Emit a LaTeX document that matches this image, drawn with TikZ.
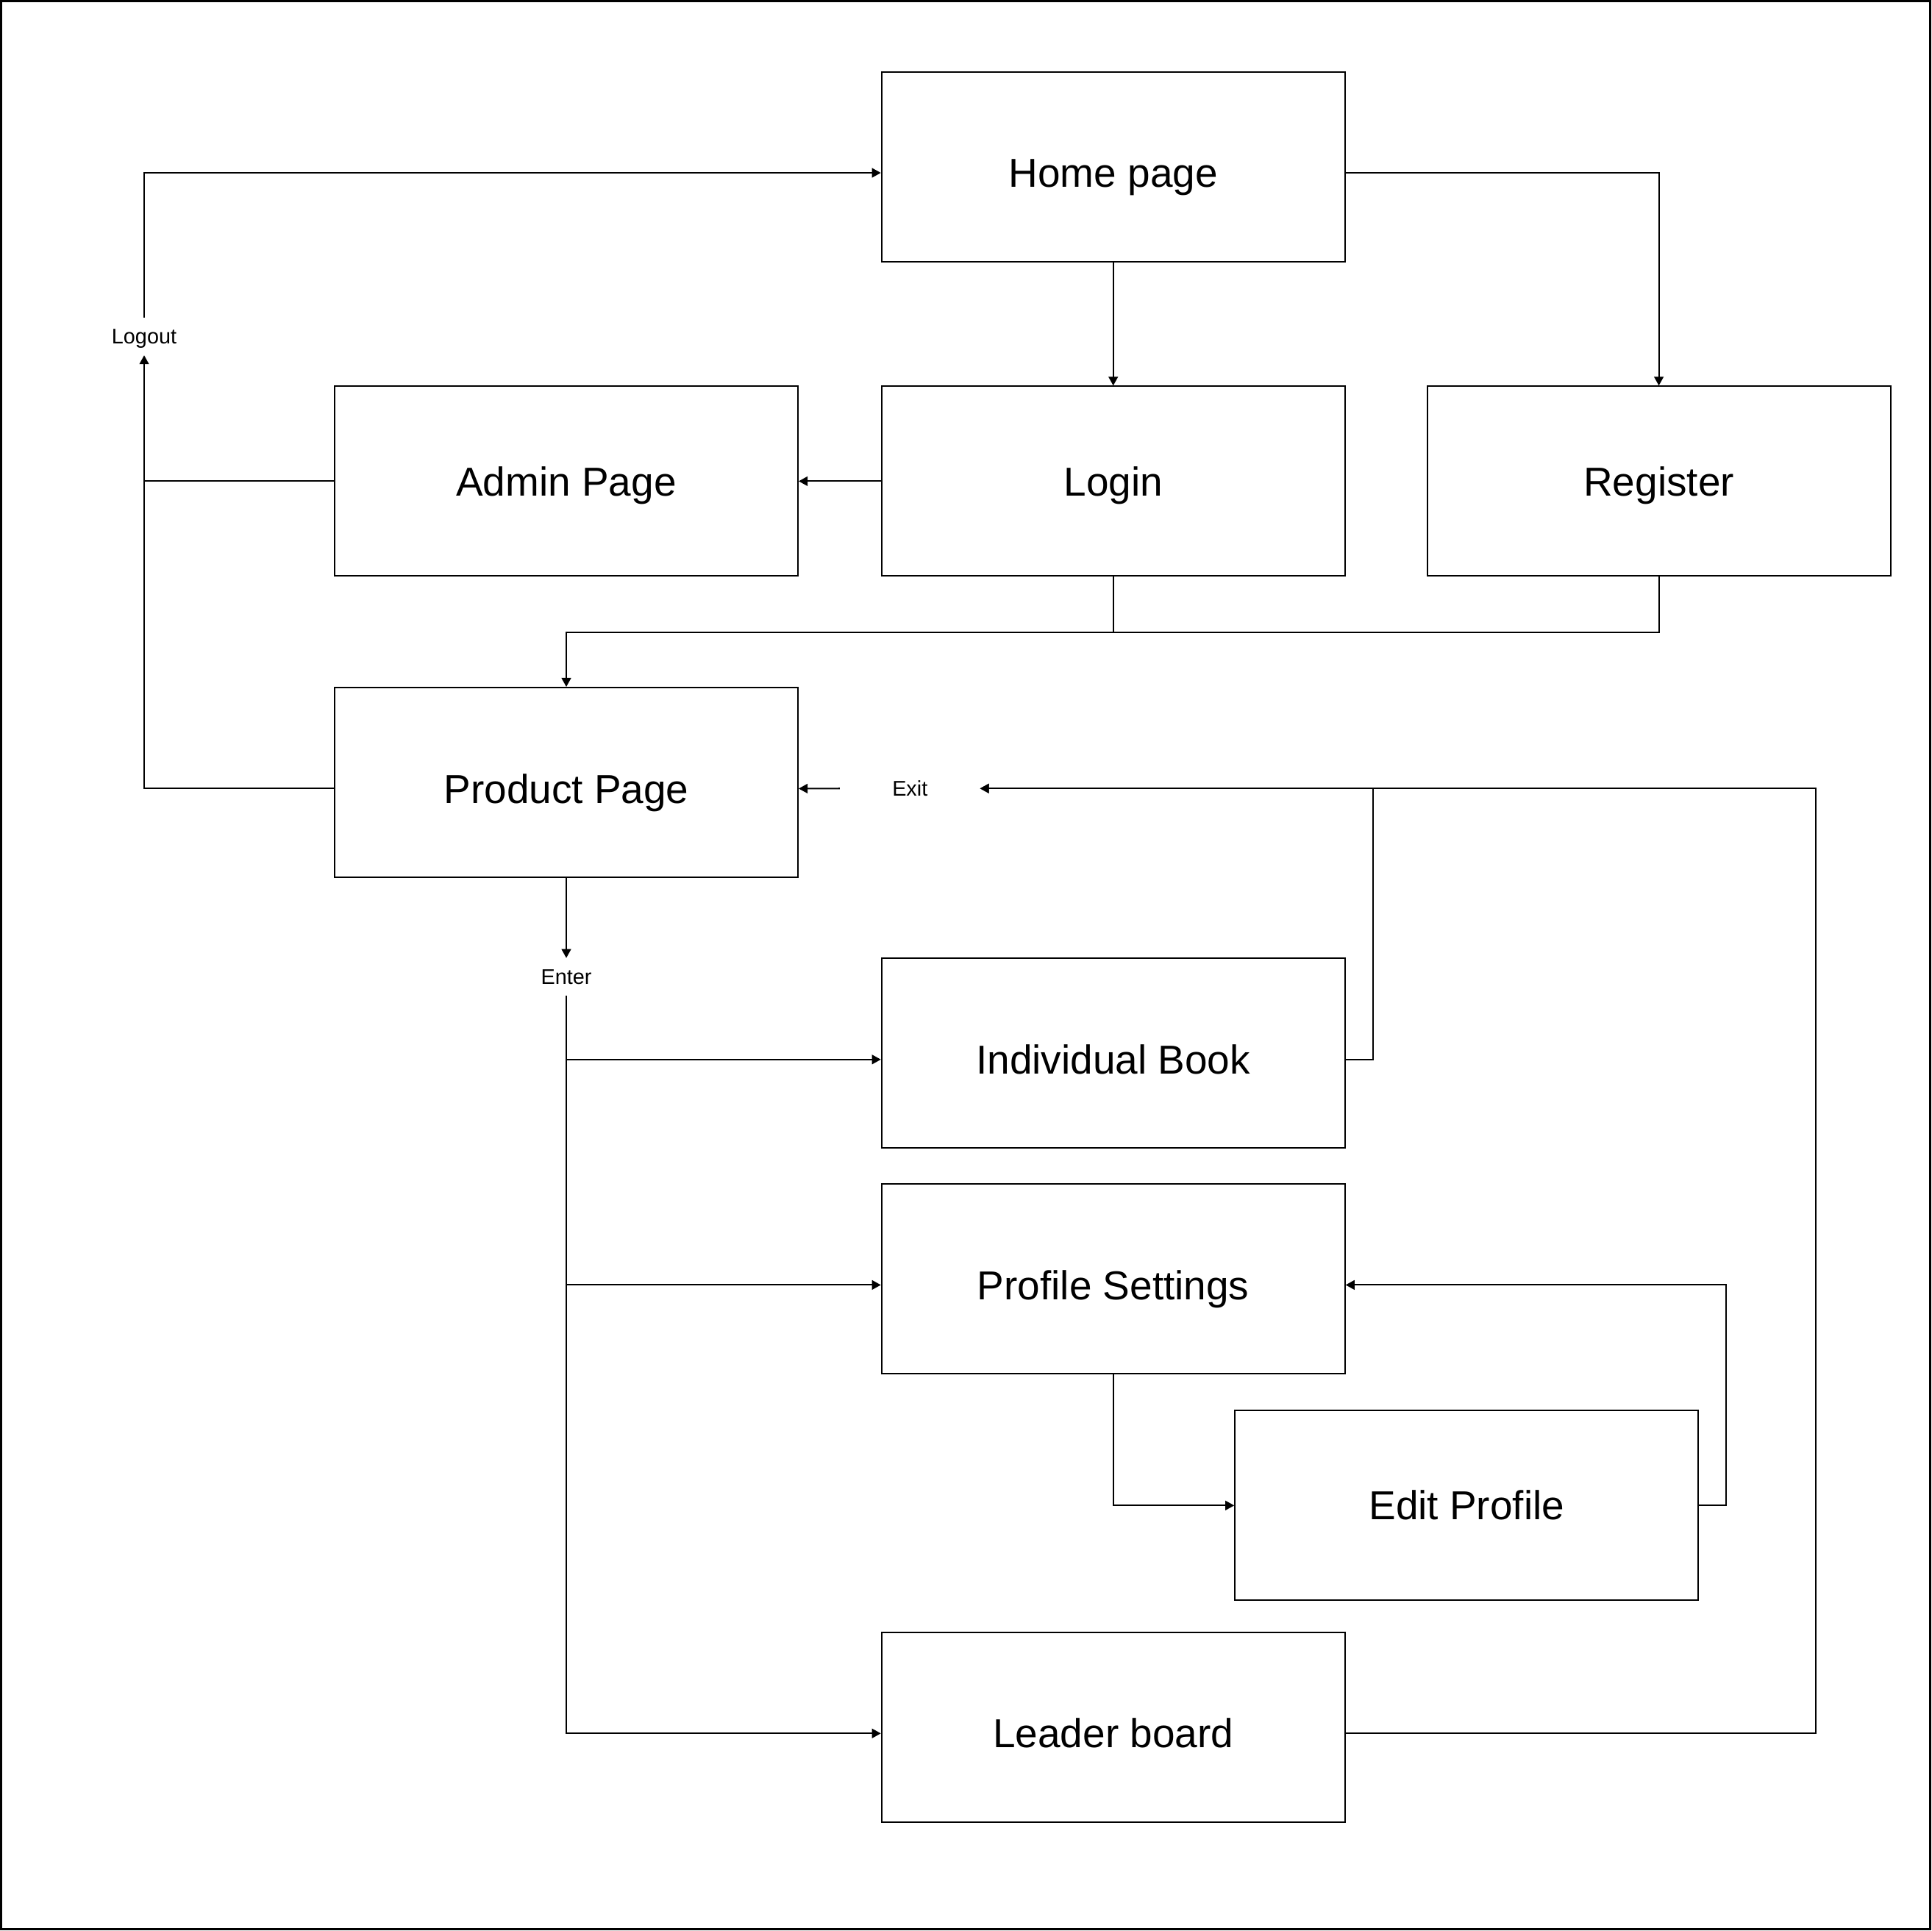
\documentclass[tikz,border=0pt]{standalone}
\usepackage{fontspec}
\setmainfont{Liberation Sans}
\usetikzlibrary{arrows.meta,calc}
\tikzset{
  pagebox/.style={draw=black, line width=0.6pt, rectangle, minimum width=188pt, minimum height=77pt,
    inner sep=0pt, font=\fontsize{16.4}{19}\selectfont, text height=11.7pt, text depth=0pt},
  pageboxlow/.style={pagebox, text height=16.7pt},
  lbl/.style={rectangle, inner sep=0pt, minimum width=56.5pt, minimum height=15pt,
    font=\fontsize{8.6}{10}\selectfont, text height=6.2pt, text depth=0pt},
  conn/.style={draw=black, line width=0.6pt},
  arr/.style={conn, -{Triangle[length=3.6pt,width=3.8pt]}},
}
\begin{document}
\begin{tikzpicture}[x=0.5pt,y=-0.5pt]
\useasboundingbox (0,0) rectangle (1568,1567);
\draw[line width=0.9pt] (0.9,0.9) rectangle (1566.6,1565.7);

\node[pageboxlow] (home)     at (903.5,135.3)  {Home page};
\node[pagebox]    (login)    at (903.5,390.6)  {Login};
\node[pagebox]    (admin)    at (459.6,390.6)  {Admin Page};
\node[pagebox]    (register) at (1346.3,390.6) {Register};
\node[pageboxlow] (product)  at (459.6,635.1)  {Product Page};
\node[pageboxlow] (ib)       at (903.5,855)    {Individual Book};
\node[pageboxlow] (profile)  at (903.5,1038)   {Profile Settings};
\node[pagebox]    (edit)     at (1190.3,1222)  {Edit Profile};
\node[pageboxlow] (leader)   at (903.5,1402)   {Leader board};

\node[lbl] (logout) at (117,273)   {Logout};
\node[lbl] (enter)  at (459.6,793) {Enter};
\node[lbl] (exit)   at (738.5,640) {Exit};

\coordinate (bus) at ($(login.south)+(0,-22.5pt)$);

% home
\draw[arr] ([yshift=-2.5pt]home.east) -| (register.north);
\draw[arr] (home.south) -- (login.north);
% login / admin
\draw[arr] (login.west) -- (admin.east);
\draw[conn] (admin.west) -- (admin.west -| logout.south);
% logout loop
\draw[arr] ([yshift=-2.5pt]product.west) -| (logout.south);
\draw[arr] (logout.north) |- ([yshift=-2.5pt]home.west);
% login/register to product
\draw[arr] (login.south) -- (bus) -| (product.north);
\draw[conn] (register.south) |- (bus);
% enter
\draw[arr] (product.south) -- (enter.north);
\draw[arr] (enter.south) |- ([yshift=-2.5pt]ib.west);
\draw[arr] (enter.south) |- ([yshift=-2.5pt]profile.west);
\draw[arr] (enter.south) |- ([yshift=-2.5pt]leader.west);
% exit
\draw[arr] ([yshift=-2.5pt]ib.east) -- ++(22,0) |- (exit.east);
\draw[arr] ([yshift=-2.5pt]leader.east) -- ++(381.5,0) |- (exit.east);
\draw[arr] (exit.west) -- ([yshift=-2.5pt]product.east);
% profile / edit
\draw[arr] (profile.south) |- (edit.west);
\draw[arr] (edit.east) -- ++(22,0) |- ([yshift=-2.5pt]profile.east);
\end{tikzpicture}
\end{document}
